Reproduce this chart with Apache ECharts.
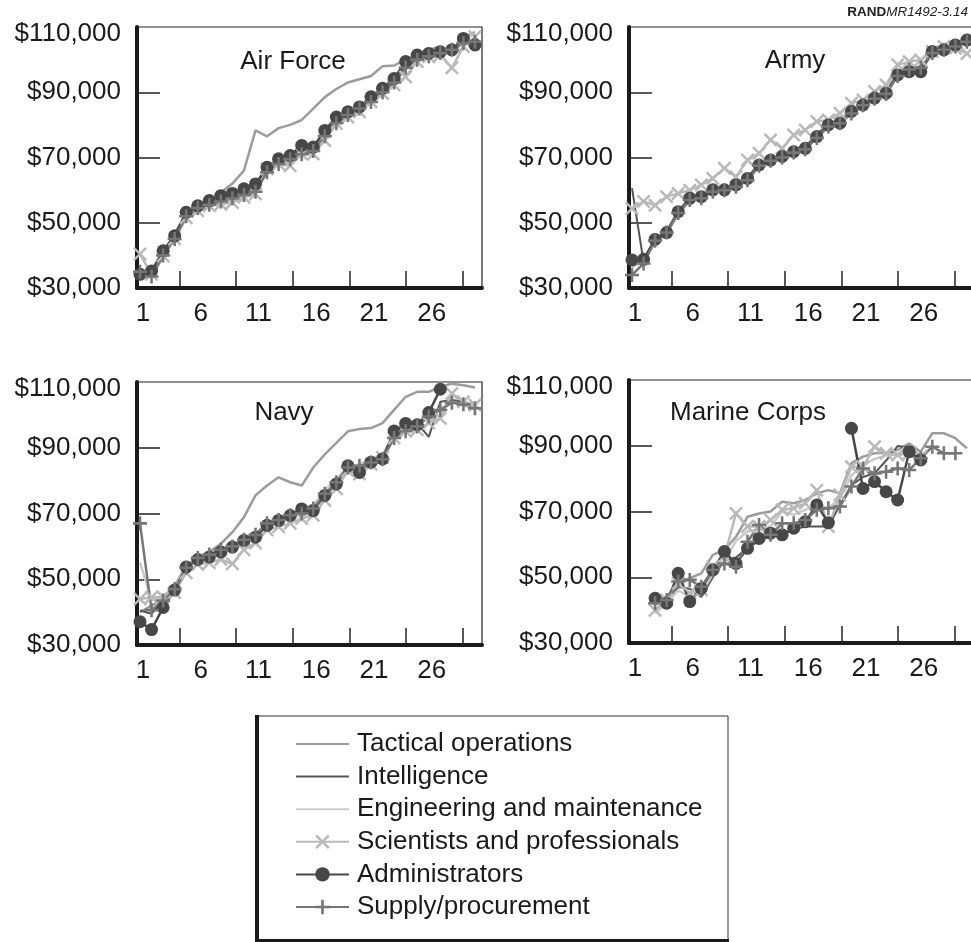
<!DOCTYPE html>
<html>
<head>
<meta charset="utf-8">
<script src="https://cdn.jsdelivr.net/npm/echarts@6/dist/echarts.min.js"></script>
<style>
  html, body { margin: 0; padding: 0; background: #fff; }
  #chart { width: 971px; height: 942px; }
</style>
</head>
<body>
<div id="chart"></div>
<script>
// salary (thousand dollars) by year of service, 30 years per service
var categories = ['Tactical operations', 'Intelligence', 'Engineering and maintenance',
    'Scientists and professionals', 'Administrators', 'Supply/procurement'];
var panelNames = ['Air Force', 'Army', 'Navy', 'Marine Corps'];
var xLabelYears = [1, 6, 11, 16, 21, 26];
var xTickYears = [4.4, 9.3, 14.25, 19.15, 24.05, 28.95];
var yLabelValues = [30, 50, 70, 90, 110];
var yTickValues = [50, 70, 90];

// Air Force
var afTactical = [34.0, 35.0, 40.5, 46.5, 53.0, 55.5, 57.0, 59.3, 62.0, 66.0, 78.3, 76.5, 79.0, 80.0, 81.5, 85.0, 88.5, 91.0, 93.0, 94.0, 95.0, 98.0, 98.2, 100.0, 101.5, 103.0, 104.0, 101.5, 106.5, 108.5];
var afIntelligence = [33.5, 34.5, 40.5, 45.5, 52.5, 55.0, 56.0, 57.5, 58.5, 59.5, 61.0, 66.5, 69.0, 70.0, 73.0, 73.0, 77.5, 81.5, 83.5, 85.0, 88.0, 90.5, 93.5, 98.5, 100.5, 101.5, 102.0, 103.0, 105.5, 105.0];
var afEngineering = [33.0, 33.7, 39.3, 45.5, 52.2, 53.7, 54.7, 56.3, 57.3, 58.8, 60.4, 66.0, 68.0, 68.6, 71.1, 72.2, 76.8, 80.4, 82.4, 84.5, 86.5, 89.6, 92.7, 96.8, 99.9, 101.4, 101.9, 103.0, 106.0, 108.0];
var afScientists = [40.4, 34.2, 39.8, 45.0, 51.5, 53.7, 55.2, 55.7, 56.2, 57.8, 58.8, 66.5, 68.0, 67.5, 71.1, 71.1, 75.2, 80.4, 82.4, 84.0, 87.1, 89.6, 92.2, 94.7, 99.4, 100.9, 101.4, 97.5, 104.0, 107.0];
var afAdministrators = [34.2, 35.2, 41.4, 46.0, 53.2, 55.2, 56.8, 58.3, 59.0, 60.4, 61.9, 67.0, 69.6, 70.6, 73.7, 73.2, 78.3, 82.4, 84.0, 85.5, 88.6, 91.2, 94.2, 99.4, 101.4, 101.9, 102.4, 103.0, 106.5, 104.5];
var afSupply = [35.0, 33.5, 40.0, 45.0, 52.0, 54.5, 55.5, 56.5, 57.5, 58.5, 59.5, 65.5, 68.0, 69.5, 71.0, 72.0, 76.5, 80.5, 83.0, 85.0, 87.0, 90.0, 93.0, 97.5, 100.0, 101.0, 102.0, 103.0, 105.0, 105.5];

// Army
var armyTactical = [37.5, 38.5, 45.0, 47.5, 53.0, 57.0, 58.5, 60.5, 60.5, 62.0, 64.0, 68.0, 69.5, 70.5, 72.5, 73.5, 77.0, 80.5, 81.0, 84.5, 86.5, 88.5, 90.5, 95.5, 97.0, 97.5, 102.0, 103.5, 105.0, 106.5];
var armyIntelligence = [60.6, 38.0, 44.5, 47.5, 53.5, 57.5, 58.0, 60.0, 60.5, 61.5, 63.5, 67.5, 69.0, 70.5, 72.0, 73.0, 76.5, 80.0, 81.0, 84.0, 86.0, 88.0, 90.0, 95.5, 96.5, 97.0, 102.5, 103.5, 104.5, 106.0];
var armyEngineering = [36.5, 38.0, 44.0, 46.5, 52.5, 56.5, 57.5, 59.5, 60.0, 61.0, 63.0, 67.0, 68.5, 70.0, 71.5, 72.5, 76.0, 79.5, 80.5, 83.5, 85.5, 87.5, 89.5, 95.0, 96.5, 97.0, 101.5, 103.0, 104.5, 105.5];
var armyScientists = [54.4, 56.5, 55.4, 58.0, 59.0, 60.0, 61.6, 63.6, 66.7, 64.1, 69.2, 71.3, 75.4, 72.8, 76.9, 78.4, 81.0, 81.5, 83.6, 86.6, 87.6, 90.2, 92.2, 98.4, 99.4, 99.9, 102.5, 104.0, 103.5, 101.9];
var armyAdministrators = [38.6, 38.8, 44.9, 47.0, 53.4, 57.5, 58.0, 60.1, 60.1, 61.6, 63.6, 67.7, 69.2, 70.3, 71.8, 72.8, 76.4, 80.0, 80.5, 84.1, 86.1, 88.2, 89.7, 95.3, 96.3, 96.3, 102.5, 103.0, 104.5, 106.0];
var armySupply = [34.0, 37.5, 44.5, 47.0, 53.0, 57.0, 57.5, 59.5, 60.0, 61.0, 63.0, 67.5, 69.0, 70.0, 71.5, 72.5, 76.0, 79.5, 80.5, 83.5, 86.0, 88.0, 89.5, 95.0, 97.0, 97.5, 102.0, 103.0, 104.0, 105.5];

// Navy
var navyTactical = [40.0, 42.0, 44.0, 48.0, 54.2, 56.3, 58.3, 60.8, 64.3, 68.9, 75.5, 78.5, 81.0, 79.5, 78.5, 84.0, 88.0, 91.5, 95.0, 95.7, 96.0, 97.5, 101.5, 105.5, 107.0, 107.0, 108.5, 109.5, 109.0, 108.3];
var navyIntelligence = [40.5, 39.5, 43.5, 47.0, 53.5, 56.0, 57.5, 58.5, 60.5, 62.0, 63.5, 66.5, 68.0, 69.5, 71.0, 71.5, 75.5, 79.5, 84.0, 83.5, 85.5, 86.5, 95.0, 97.0, 97.5, 93.3, 104.0, 104.5, 104.0, 103.0];
var navyEngineering = [55.1, 43.6, 45.0, 47.5, 54.0, 56.5, 57.5, 59.0, 60.5, 62.5, 64.0, 67.0, 68.5, 70.0, 71.5, 72.5, 77.0, 80.5, 84.0, 85.0, 86.5, 88.0, 94.0, 96.0, 97.0, 99.0, 102.0, 104.0, 103.0, 101.5];
var navyScientists = [44.0, 44.5, 44.6, 46.0, 52.0, 54.5, 55.0, 56.0, 54.7, 59.0, 61.0, 65.0, 66.0, 67.0, 68.5, 69.5, 74.0, 77.5, 83.0, 82.0, 85.0, 87.0, 93.0, 95.0, 95.5, 97.5, 99.0, 106.5, 104.0, 103.0];
var navyAdministrators = [37.1, 34.7, 41.4, 46.7, 53.7, 56.0, 56.8, 58.3, 59.8, 61.8, 62.8, 66.4, 67.9, 69.4, 71.4, 70.9, 75.5, 79.0, 84.5, 82.5, 85.6, 86.6, 95.1, 97.4, 97.0, 100.7, 107.8, null, null, null];
var navySupply = [67.0, 40.6, 43.5, 47.0, 53.5, 56.5, 57.5, 59.0, 60.0, 62.0, 63.5, 67.0, 68.0, 69.5, 70.0, 71.5, 76.0, 79.5, 84.0, 84.5, 85.5, 86.5, 93.0, 95.0, 96.5, 99.5, 101.5, 103.7, 103.2, 102.0];

// Marine Corps
var marineTactical = [null, null, 43.1, 44.1, 48.2, 49.7, 51.2, 56.8, 58.3, 62.3, 68.4, 69.4, 70.0, 73.0, 72.5, 73.5, 75.5, 76.5, 75.5, 84.7, 86.7, 87.7, 87.9, 88.7, 90.7, 88.2, 93.8, 93.8, 92.3, 89.2];
var marineIntelligence = [null, null, 42.0, 43.0, 47.0, 46.5, 44.0, 50.0, 55.0, 56.0, 59.0, 61.0, 62.5, 63.0, 64.5, 65.4, 65.4, 65.4, 72.0, 78.0, 80.5, 81.6, 85.5, 89.9, 89.5, 86.5, null, null, null, null];
var marineEngineering = [null, null, 39.0, 42.0, 46.0, 44.0, 45.0, 51.0, 55.0, 61.0, 64.0, 64.5, 65.5, 70.0, 69.0, 70.5, 72.0, 71.0, 74.0, 81.0, 84.0, 86.0, 87.0, 87.5, 88.5, 87.0, null, null, null, null];
var marineScientists = [null, null, 40.0, 43.1, 48.2, 45.1, 46.1, 53.2, 56.3, 69.4, 65.4, 65.4, 67.4, 70.5, 71.0, 72.5, 76.5, 65.4, 75.0, 83.6, 83.6, 89.7, 87.7, 87.2, 87.7, 86.7, null, null, null, null];
var marineAdministrators = [null, null, 43.6, 42.1, 51.2, 42.6, 46.6, 52.2, 57.8, 54.2, 58.8, 61.8, 63.4, 62.9, 64.9, 66.9, 72.0, 66.6, null, 95.3, 77.0, 79.1, 76.0, 73.5, 88.2, 85.7, null, null, null, null];
var marineSupply = [null, null, 42.1, 43.1, 48.7, 49.2, 47.1, 52.2, 54.2, 53.2, 60.8, 65.9, 62.9, 66.4, 66.4, 67.4, 70.5, 71.0, 71.5, 77.6, 83.1, 81.6, 82.1, 83.1, 82.6, 86.2, 89.7, 87.7, 87.7, null];

var panelData = [
    [afTactical, afIntelligence, afEngineering, afScientists, afAdministrators, afSupply],
    [armyTactical, armyIntelligence, armyEngineering, armyScientists, armyAdministrators, armySupply],
    [navyTactical, navyIntelligence, navyEngineering, navyScientists, navyAdministrators, navySupply],
    [marineTactical, marineIntelligence, marineEngineering, marineScientists, marineAdministrators, marineSupply]
];

var FONT = 'Liberation Sans, Arial, Helvetica, sans-serif';
var INK = '#1a1a1a';
var PLUS = 'path://M4.9,0H7.1V4.9H12V7.1H7.1V12H4.9V7.1H0V4.9H4.9Z';
var CROSS = 'path://M0,1.5L1.5,0L6,4.5L10.5,0L12,1.5L7.5,6L12,10.5L10.5,12L6,7.5L1.5,12L0,10.5L4.5,6Z';

// line look per category
var looks = [
    { color: '#9c9c9c', width: 2.5, symbol: 'none', size: 0 },
    { color: '#555555', width: 2, symbol: 'none', size: 0 },
    { color: '#cacaca', width: 2.5, symbol: 'none', size: 0 },
    { color: '#b9b9b9', width: 2.5, symbol: CROSS, size: 14 },
    { color: '#474747', width: 2.5, symbol: 'circle', size: 13 },
    { color: '#767676', width: 2.5, symbol: PLUS, size: 14 }
];

var panelBoxes = [
    { left: 137, top: 27, width: 345, height: 261 },
    { left: 629, top: 27, width: 345, height: 261 },
    { left: 137, top: 382, width: 345, height: 263 },
    { left: 629, top: 380, width: 345, height: 263 }
];
var titlePos = [[293, 62], [795, 61], [284, 413], [748, 413]];

var grid = [], xAxis = [], yAxis = [], series = [], graphic = [];

panelBoxes.forEach(function(b, p) {
    grid.push({
        left: b.left, top: b.top, width: b.width, height: b.height,
        show: true, borderColor: '#222', borderWidth: 1.2,
        backgroundColor: 'transparent', outerBoundsMode: 'none'
    });
    xAxis.push({
        gridIndex: p, type: 'value', min: 0.74, max: 30.61,
        axisLine: { show: true, onZero: false, lineStyle: { color: INK, width: 4 } },
        axisTick: { show: true, inside: true, length: 17, customValues: xTickYears,
            lineStyle: { color: '#222', width: 1.5 } },
        axisLabel: { show: true, customValues: xLabelYears.map(function(v) { return v + 0.25; }),
            formatter: function(v) { return String(Math.round(v)); },
            fontSize: 26, fontFamily: FONT, color: INK, margin: 13 },
        splitLine: { show: false }
    });
    yAxis.push({
        gridIndex: p, type: 'value', min: 30, max: 110,
        axisLine: { show: true, onZero: false, lineStyle: { color: INK, width: 4 } },
        axisTick: { show: true, inside: true, length: 23, customValues: yTickValues,
            lineStyle: { color: '#222', width: 1.5 } },
        axisLabel: { show: true, customValues: yLabelValues,
            formatter: function(v) {
                var s = '$' + v + ',000';
                return v === 110 ? '{top|' + s + '}' : s;
            },
            rich: { top: { fontSize: 26, fontFamily: FONT, color: INK, padding: [14, 0, 0, 0] } },
            fontSize: 26, fontFamily: FONT, color: INK, margin: 16 },
        splitLine: { show: false }
    });
    panelData[p].forEach(function(arr, c) {
        var lk = looks[c];
        series.push({
            name: categories[c], type: 'line',
            xAxisIndex: p, yAxisIndex: p,
            data: arr.map(function(v, i) { return [i + 1, v == null ? '-' : v]; }),
            symbol: lk.symbol, symbolSize: lk.size, showSymbol: lk.symbol !== 'none',
            itemStyle: { color: lk.color },
            lineStyle: { color: lk.color, width: lk.width },
            clip: false, connectNulls: false,
            emphasis: { disabled: true }, silent: true
        });
    });
    graphic.push({
        type: 'text', x: titlePos[p][0], y: titlePos[p][1],
        style: { text: panelNames[p], fontSize: 26, fontFamily: FONT, fill: INK,
            align: 'center', verticalAlign: 'middle' }
    });
});

// legend frame: thin box with heavy left and bottom edge
graphic.push({ type: 'rect', z: -1, shape: { x: 257, y: 716, width: 471, height: 224 },
    style: { fill: '#fff', stroke: '#333', lineWidth: 1 } });
graphic.push({ type: 'line', shape: { x1: 257, y1: 715, x2: 257, y2: 942 },
    style: { stroke: INK, lineWidth: 4 } });
graphic.push({ type: 'line', shape: { x1: 255, y1: 940.5, x2: 729, y2: 940.5 },
    style: { stroke: INK, lineWidth: 3 } });
graphic.push({
    type: 'text', x: 968, y: 12,
    style: { text: '{b|RAND}{i|MR1492-3.14}', align: 'right', verticalAlign: 'middle',
        rich: { b: { fontWeight: 'bold', fontSize: 13.5, fontFamily: FONT, fill: '#222' },
                i: { fontStyle: 'italic', fontSize: 13.5, fontFamily: FONT, fill: '#222' } } }
});

// line-only categories get no marker in the legend
var legendData = categories.map(function(name, c) {
    return looks[c].symbol === 'none' ? { name: name, itemStyle: { opacity: 0 } } : { name: name };
});

var chart = echarts.init(document.getElementById('chart'), null, { renderer: 'canvas' });
chart.setOption({
    animation: false,
    backgroundColor: '#fff',
    grid: grid, xAxis: xAxis, yAxis: yAxis, series: series,
    legend: {
        data: legendData, orient: 'vertical', left: 290, top: 726,
        itemWidth: 53, itemHeight: 18, itemGap: 6.6, selectedMode: false,
        textStyle: { fontSize: 26, fontFamily: FONT, color: INK, lineHeight: 26, padding: [0, 0, 0, 3] }
    },
    graphic: graphic
});
</script>
</body>
</html>
